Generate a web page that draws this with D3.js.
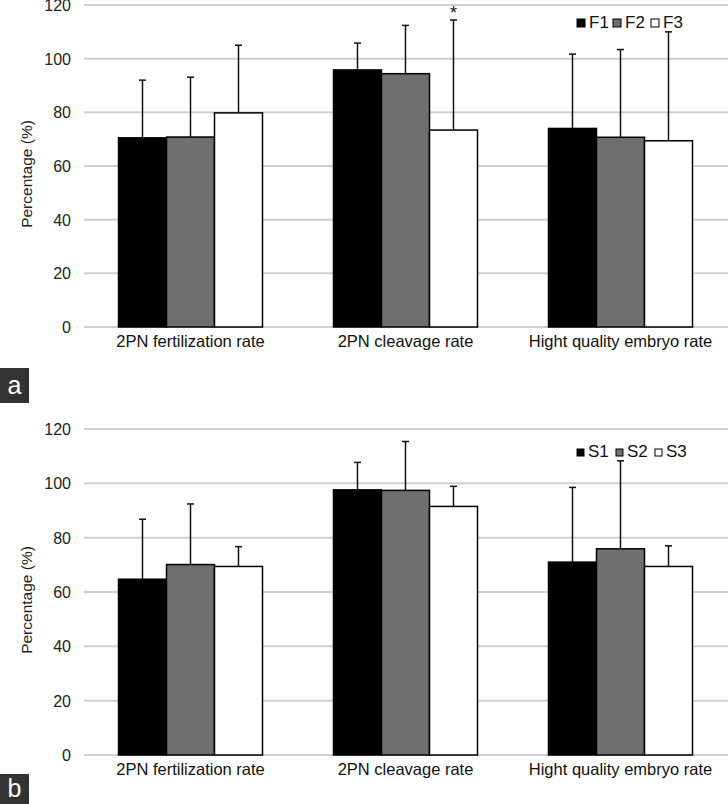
<!DOCTYPE html>
<html><head><meta charset="utf-8">
<script src="https://cdn.jsdelivr.net/npm/d3@7"></script>
<style>body{margin:0;background:#fff;}svg{display:block;font-family:"Liberation Sans","Arimo",Arial,sans-serif;}</style>
</head><body>
<svg id="c" width="728" height="804"></svg>
<script>
const categories = ["2PN fertilization rate", "2PN cleavage rate", "Hight quality embryo rate"];
const yTicks = [0, 20, 40, 60, 80, 100, 120];
const seriesA = ["F1", "F2", "F3"];
const seriesB = ["S1", "S2", "S3"];
const colors = ["#000000", "#6f6f6f", "#ffffff"];
// panel a: means and upper error bar ends
const meanA = [[70.5, 95.8, 74.0], [70.8, 94.4, 70.7], [79.8, 73.4, 69.4]];
const errTopA = [[92.0, 105.8, 101.7], [93.1, 112.4, 103.4], [105.0, 114.4, 110.0]];
// panel b
const meanB = [[64.7, 97.6, 71.0], [70.1, 97.4, 75.9], [69.4, 91.5, 69.4]];
const errTopB = [[86.8, 107.7, 98.5], [92.4, 115.4, 108.3], [76.7, 98.9, 77.0]];

const svg = d3.select("#c");

function panel(cfg) {
  const g = svg.append("g");
  const y = d3.scaleLinear().domain([0, 120]).range([cfg.y0, cfg.y120]);
  const x0 = d3.scaleBand().domain(categories).range([83, 728]);
  const gw = 144;
  const x1 = d3.scaleBand().domain(cfg.series).range([0, gw]);
  // gridlines
  g.selectAll("line.grid").data(yTicks).join("line")
    .attr("x1", 84).attr("x2", 728)
    .attr("y1", d => y(d)).attr("y2", d => y(d))
    .attr("stroke", "#cfcfcf").attr("stroke-width", 2);
  // tick labels
  g.selectAll("text.tick").data(yTicks).join("text")
    .attr("x", 71).attr("y", d => y(d) + 6)
    .attr("text-anchor", "end").attr("font-size", 16).attr("fill", "#222")
    .text(d => d);
  // axis title
  const mid = (cfg.y0 + cfg.y120) / 2 + 8;
  g.append("text").attr("transform", `translate(32,${mid}) rotate(-90)`)
    .attr("text-anchor", "middle").attr("font-size", 15.5).attr("fill", "#222")
    .text("Percentage (%)");
  // bars
  cfg.series.forEach((s, si) => {
    categories.forEach((c, ci) => {
      const xl = x0(c) + (x0.bandwidth() - gw) / 2 + x1(s);
      const cx = xl + x1.bandwidth() / 2;
      const v = cfg.mean[si][ci];
      g.append("rect").attr("x", xl).attr("y", y(v))
        .attr("width", x1.bandwidth()).attr("height", y(0) - y(v))
        .attr("fill", colors[si]).attr("stroke", "#000").attr("stroke-width", 1.5);
      const e = cfg.err[si][ci];
      g.append("line").attr("x1", cx).attr("x2", cx).attr("y1", y(v)).attr("y2", y(e))
        .attr("stroke", "#111").attr("stroke-width", 1.5);
      g.append("line").attr("x1", cx - 3.5).attr("x2", cx + 3.5).attr("y1", y(e)).attr("y2", y(e))
        .attr("stroke", "#111").attr("stroke-width", 1.5);
      if (cfg.star && cfg.star[0] === si && cfg.star[1] === ci) {
        g.append("text").attr("x", cx).attr("y", y(e) - 1).attr("text-anchor", "middle")
          .attr("font-size", 18).attr("fill", "#111").text("*");
      }
    });
  });
  // category labels
  g.selectAll("text.cat").data(categories).join("text")
    .attr("x", d => x0(d) + x0.bandwidth() / 2).attr("y", cfg.y0 + 20)
    .attr("text-anchor", "middle").attr("font-size", 16.5).attr("fill", "#111")
    .text(d => d);
  // legend
  cfg.series.forEach((s, si) => {
    const lx = cfg.legX[si];
    g.append("rect").attr("x", lx).attr("y", cfg.legY - cfg.sq + 1)
      .attr("width", cfg.sq).attr("height", cfg.sq)
      .attr("fill", colors[si]).attr("stroke", "#000").attr("stroke-width", 1);
    g.append("text").attr("x", lx + cfg.sq + 4).attr("y", cfg.legY + 2)
      .attr("font-size", 17).attr("fill", "#111").text(s);
  });
  // panel label box
  g.append("rect").attr("x", 0).attr("y", cfg.boxY).attr("width", 29).attr("height", cfg.boxH).attr("fill", "#333");
  g.append("text").attr("x", 14.5).attr("y", cfg.boxY + cfg.boxH / 2 + 8).attr("text-anchor", "middle")
    .attr("font-size", 25).attr("fill", "#fff").text(cfg.label);
}

panel({series: seriesA, mean: meanA, err: errTopA, y0: 327, y120: 5,
  legX: [577, 613, 651], legY: 26, sq: 8, star: [2, 1], boxY: 368, boxH: 35, label: "a"});
panel({series: seriesB, mean: meanB, err: errTopB, y0: 755, y120: 429,
  legX: [577, 616, 655], legY: 455, sq: 7, boxY: 774, boxH: 30, label: "b"});
</script>
</body></html>
